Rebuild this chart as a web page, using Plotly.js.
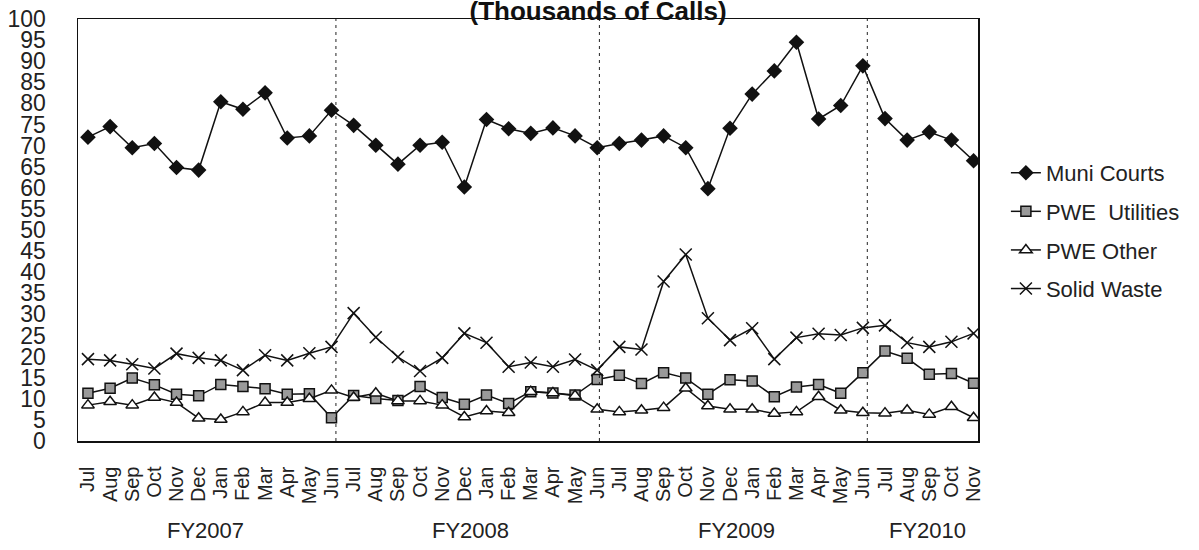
<!DOCTYPE html>
<html>
<head>
<meta charset="utf-8">
<script src="https://cdn.plot.ly/plotly-3.0.1.min.js"></script>
<style>html,body{margin:0;padding:0;background:#fff;}#chart{width:1199px;height:550px;}</style>
</head>
<body>
<div id="chart"></div>
<script>
// Month labels, Jul FY2007 .. Nov FY2010
const months = ["Jul","Aug","Sep","Oct","Nov","Dec","Jan","Feb","Mar","Apr","May","Jun",
                "Jul","Aug","Sep","Oct","Nov","Dec","Jan","Feb","Mar","Apr","May","Jun",
                "Jul","Aug","Sep","Oct","Nov","Dec","Jan","Feb","Mar","Apr","May","Jun",
                "Jul","Aug","Sep","Oct","Nov"];
const fiscalYears = ["FY2007","FY2008","FY2009","FY2010"];
const yTicks = [0,5,10,15,20,25,30,35,40,45,50,55,60,65,70,75,80,85,90,95,100];

// Thousands of calls
const muniCourts = [72,74.5,69.5,70.5,64.8,64.2,80.4,78.6,82.5,71.8,72.3,78.4,
                    74.8,70.1,65.6,70.1,70.8,60.2,76.2,74.0,72.9,74.2,72.3,69.5,
                    70.5,71.3,72.3,69.5,59.8,74.1,82.2,87.7,94.5,76.3,79.5,88.9,
                    76.4,71.3,73.2,71.3,66.4];
const pweUtilities = [11.3,12.5,14.9,13.3,11.1,10.7,13.4,12.9,12.4,11.1,11.2,5.5,
                      10.8,10.1,9.6,12.9,10.3,8.7,10.9,8.9,11.7,11.4,10.9,14.6,
                      15.6,13.6,16.2,14.9,11.1,14.5,14.2,10.5,12.8,13.4,11.3,16.2,
                      21.3,19.6,15.8,16.0,13.7];
const pweOther = [8.5,9.3,8.5,10.3,9.1,5.4,5.1,6.9,9.1,9.1,10.0,12.0,
                  10.3,11.3,9.5,9.5,8.5,5.7,7.1,6.7,11.7,11.4,10.7,7.5,
                  6.9,7.3,7.9,12.5,8.3,7.5,7.5,6.5,6.9,10.5,7.3,6.7,
                  6.6,7.3,6.3,8.1,5.5];
const solidWaste = [19.4,19.1,18.2,17.2,20.7,19.7,19.1,16.8,20.3,19.1,20.8,22.3,
                    30.3,24.6,19.9,16.6,19.7,25.5,23.3,17.6,18.6,17.6,19.3,16.8,
                    22.3,21.7,37.8,44.2,29.1,23.9,26.7,19.4,24.5,25.4,25.1,26.8,
                    27.4,23.3,22.3,23.5,25.5];

const idx = months.map((m, i) => i);
const FONT = "Liberation Sans, Arial, sans-serif";

function series(name, y, marker, group) {
  return {
    type: "scatter", mode: "lines+markers", name: name, x: idx, y: y,
    legendgroup: group,
    line: {color: "#111", width: 1.5},
    marker: marker
  };
}

const traces = [
  series("Muni Courts", muniCourts, {symbol: "diamond", size: 12, color: "#111", line: {color: "#111", width: 0}}, "g1"),
  series("PWE  Utilities", pweUtilities, {symbol: "square", size: 10, color: "#9a9a9a", line: {color: "#111", width: 1.5}}, "g2"),
  series("PWE Other", pweOther, {symbol: "triangle-up", size: 11, color: "#ffffff", line: {color: "#111", width: 1.5}}, "g3"),
  series("Solid Waste", solidWaste, {symbol: "x-thin-open", size: 12, color: "#111", line: {color: "#111", width: 1.5}}, "g4")
];

const fyPos = [5.3, 17.3, 29.3, 37.9];
const annotations = fiscalYears.map((t, i) => ({
  text: t, x: fyPos[i], xref: "x", y: -0.213, yref: "paper",
  xanchor: "center", yanchor: "middle", showarrow: false,
  font: {family: FONT, size: 22, color: "#222"}
}));

const dividers = [11.2, 23.1, 35.2].map(v => ({
  type: "line", xref: "x", yref: "paper", x0: v, x1: v, y0: 0, y1: 1,
  line: {color: "#222", width: 1, dash: "3px,4px"}
}));

const layout = {
  width: 1199, height: 550,
  margin: {l: 78, r: 221, t: 19, b: 109},
  paper_bgcolor: "#fff", plot_bgcolor: "#fff",
  font: {family: FONT, color: "#222"},
  title: {
    text: "<b>(Thousands of Calls)</b>",
    font: {family: FONT, size: 26, color: "#111"},
    x: 0.4988, xanchor: "center", xref: "container",
    y: 0.98, yanchor: "middle", yref: "container"
  },
  xaxis: {
    range: [-0.45, 40.2],
    tickmode: "array", tickvals: idx, ticktext: months,
    tickangle: -90, ticks: "", ticklabelstandoff: 16,
    tickfont: {family: FONT, size: 20, color: "#222"},
    showgrid: false, zeroline: false,
    showline: true, mirror: true, linecolor: "#111", linewidth: 1.5
  },
  yaxis: {
    range: [0, 100],
    tickmode: "array", tickvals: yTicks, ticktext: yTicks.map(String),
    ticks: "", ticklabelstandoff: 26,
    tickfont: {family: FONT, size: 23, color: "#222"},
    showgrid: false, zeroline: false,
    showline: true, mirror: true, linecolor: "#111", linewidth: 1.5
  },
  legend: {
    x: 1.031, xanchor: "left", y: 0.685, yanchor: "top",
    traceorder: "grouped", tracegroupgap: 7,
    font: {family: FONT, size: 22, color: "#222"},
    bgcolor: "rgba(0,0,0,0)"
  },
  showlegend: true,
  shapes: dividers,
  annotations: annotations
};

Plotly.newPlot("chart", traces, layout, {displayModeBar: false, staticPlot: true});
</script>
</body>
</html>
